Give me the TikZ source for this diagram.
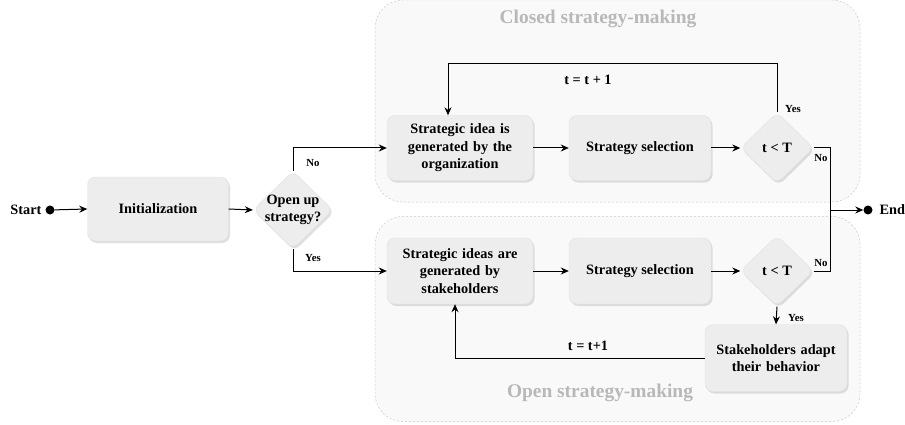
\documentclass[tikz,border=0pt]{standalone}
\usepackage{fontspec}
\setmainfont{Liberation Serif}
\usetikzlibrary{shapes.geometric,arrows.meta,shadows,positioning}
\definecolor{boxfill}{HTML}{EDEDED}
\definecolor{boxline}{HTML}{E0E0E0}
\definecolor{grpfill}{HTML}{F9F9F9}
\definecolor{grpline}{HTML}{C8C8C8}
\definecolor{titlegray}{HTML}{B8B8B8}
\begin{document}
\begin{tikzpicture}[x=1pt,y=-1pt,
  group/.style={rectangle,draw=grpline,dash pattern=on 2pt off 2pt,fill=grpfill,rounded corners=28pt,line width=0.5pt,inner sep=0pt},
  grptitle/.style={text=titlegray,font=\bfseries\fontsize{19.4}{22}\selectfont},
  proc/.style={rectangle,rounded corners=8pt,fill=boxfill,draw=boxline,line width=0.4pt,
    drop shadow={shadow xshift=1.5pt,shadow yshift=-2pt,fill=black!25},
    align=center,font=\bfseries\fontsize{14.3}{17.5}\selectfont,inner sep=2pt},
  dec/.style={diamond,rounded corners=7pt,fill=boxfill,draw=boxline,line width=0.4pt,
    drop shadow={shadow xshift=1.5pt,shadow yshift=-2pt,fill=black!25},
    align=center,font=\bfseries\fontsize{14.3}{16.5}\selectfont,inner sep=-5pt},
  dot/.style={circle,fill=black,inner sep=0pt,minimum size=9pt},
  txt/.style={font=\bfseries\fontsize{14.3}{16}\selectfont},
  lbl/.style={font=\bfseries\fontsize{10.8}{12}\selectfont},
  flow/.style={-{Stealth[length=8pt,width=7pt]},line width=1pt},
  plain/.style={line width=1pt}]
\useasboundingbox (0,0) rectangle (905,425);

% groups
\node (closed) [group,minimum width=485pt,minimum height=202pt] at (617.5,101) {};
\node (open) [group,minimum width=485pt,minimum height=205pt] at (617.5,319) {};
\node (ctitle) [grptitle] at (598,19) {Closed strategy-making};
\node (otitle) [grptitle] at (600,393) {Open strategy-making};

% start / end
\node (sdot) [dot] at (50,210) {};
\node (stxt) [txt,anchor=east] at (45,210) {Start};
\node (edot) [dot] at (868,210) {};
\node (etxt) [txt,anchor=west] at (876,210) {End};
\coordinate (junc) at (830,210);

% nodes
\node (init) [proc,minimum width=141pt,minimum height=64pt] at (158,209) {Initialization};
\node (openup) [dec,minimum width=80pt,minimum height=78pt] at (293,210) {Open up\\strategy?};

\node (gen1) [proc,minimum width=146pt,minimum height=65pt,text width=138pt] at (460,148) {Strategic idea is\\generated by the\\organization};
\node (sel1) [proc,minimum width=142pt,minimum height=65pt] at (640,148) {Strategy selection};
\node (dec1) [dec,minimum width=73pt,minimum height=71pt] at (777,148) {t < T};

\node (gen2) [proc,minimum width=146pt,minimum height=66pt,text width=138pt] at (460,271) {Strategic ideas are\\generated by\\stakeholders};
\node (sel2) [proc,minimum width=142pt,minimum height=66pt] at (640,271) {Strategy selection};
\node (dec2) [dec,minimum width=73pt,minimum height=71pt] at (777,271) {t < T};
\node (adapt) [proc,minimum width=141pt,minimum height=67pt,text width=138pt] at (776,358) {Stakeholders adapt\\their behavior};

% connectors
\draw[flow] (sdot) -- (init.west);
\draw[flow] (init.east) -- (openup.west);
\draw[flow] (openup.north) |- (gen1.west);
\node (lno0) [lbl] at (313,163) {No};
\draw[flow] (openup.south) |- (gen2.west);
\node (lyes0) [lbl] at (313,258) {Yes};

\draw[flow] (gen1.east) -- (sel1.west);
\draw[flow] (sel1.east) -- (dec1.west);
\draw[flow] (dec1.north) -- ++(0,-49) -| ([xshift=-12pt]gen1.north);
\node (l1) [txt] at (588,80) {t = t + 1};
\node (lyes1) [lbl] at (793,109) {Yes};

\draw[plain] (dec1.east) -| (junc);
\draw[plain] (dec2.east) -| (junc);
\draw[flow] (junc) -- (edot.west);
\node (lno1) [lbl] at (821,158) {No};
\node (lno2) [lbl] at (821,263) {No};

\draw[flow] (gen2.east) -- (sel2.west);
\draw[flow] (sel2.east) -- (dec2.west);
\draw[flow] (dec2.south) -- (adapt.north);
\node (lyes2) [lbl] at (796,318) {Yes};
\draw[flow] (adapt.west) -| ([xshift=-5pt]gen2.south);
\node (l2) [txt] at (588,346) {t = t+1};
\end{tikzpicture}
\end{document}
